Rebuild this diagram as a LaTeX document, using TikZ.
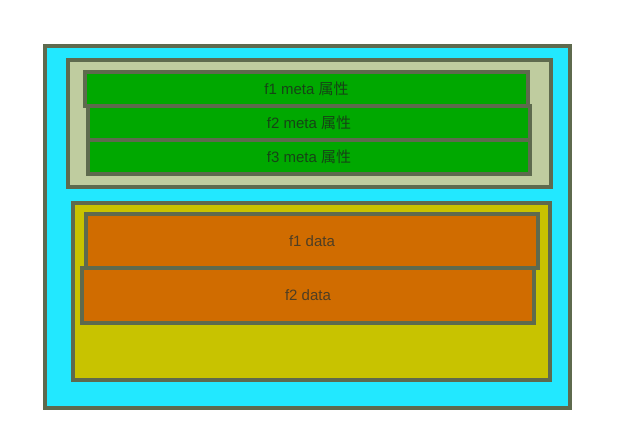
\documentclass[tikz,border=0pt]{standalone}
\usepackage{fontspec}
\setmainfont{Liberation Sans}
\newfontfamily\cjk{Noto Sans CJK SC}
\definecolor{rim}{HTML}{5E6A4E}
\definecolor{skyfill}{HTML}{22E8FF}
\definecolor{metafill}{HTML}{BFCC9F}
\definecolor{leaf}{HTML}{00A800}
\definecolor{olive}{HTML}{C8C300}
\definecolor{rust}{HTML}{D06C00}
\definecolor{leaftext}{HTML}{164416}
\definecolor{rusttext}{HTML}{4E3E24}
\tikzset{
  box/.style={draw=rim,line width=3.5pt,rectangle,inner sep=0pt},
  metabox/.style={box,fill=leaf,text=leaftext,minimum height=34pt,font=\fontsize{15}{18}\selectfont},
  databox/.style={box,fill=rust,text=rusttext,minimum height=54pt,font=\fontsize{15}{18}\selectfont}
}
\begin{document}
\begin{tikzpicture}[x=1pt,y=-1pt]
  \useasboundingbox (0,0) rectangle (618,442);
  % containers
  \node[box,fill=skyfill,minimum width=525pt,minimum height=362pt] (file) at (307.5,227) {};
  \node[box,fill=metafill,minimum width=483pt,minimum height=127pt] (meta) at (309.5,123.5) {};
  \node[box,fill=olive,minimum width=477pt,minimum height=177pt] (data) at (311.5,291.5) {};
  % meta rows
  \node[metabox,minimum width=443pt] (m1) at (306.5,89) {f1 meta {\cjk 属性}};
  \node[metabox,minimum width=442pt] (m2) at (309,123) {f2 meta {\cjk 属性}};
  \node[metabox,minimum width=442pt] (m3) at (309,157) {f3 meta {\cjk 属性}};
  % data rows
  \node[databox,minimum width=452pt] (d1) at (312,241) {f1 data};
  \node[databox,minimum width=452pt,minimum height=55pt] (d2) at (308,295.5) {f2 data};
\end{tikzpicture}
\end{document}
